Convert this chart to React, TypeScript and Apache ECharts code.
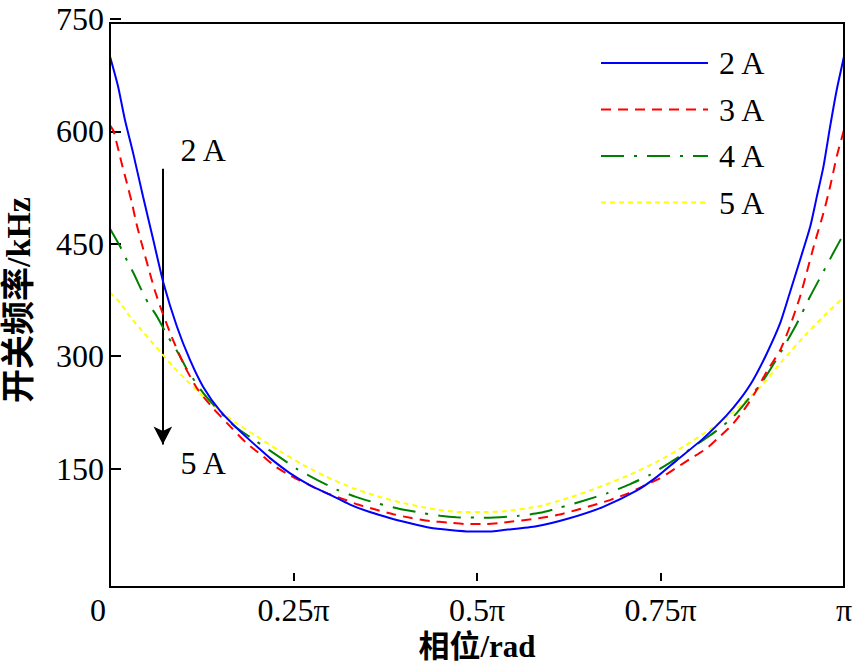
import React, { useEffect, useRef } from "react";
import * as echarts from "echarts";

// x: phase as a fraction of π; y: switching frequency (kHz)
const xTickLabels = ["0", "0.25π", "0.5π", "0.75π", "π"];
const seriesNames = ["2 A", "3 A", "4 A", "5 A"];
const seriesColors = ["#0000ff", "#ff0000", "#008000", "#ffff00"];

const current2A: [number, number][] = [
  [0, 700], [0.011, 660], [0.02, 617], [0.032, 569], [0.045, 513], [0.059, 455], [0.073, 397],
  [0.091, 340], [0.109, 295], [0.127, 259], [0.15, 227], [0.177, 200], [0.204, 176], [0.218, 164],
  [0.245, 144], [0.272, 128], [0.3, 115], [0.327, 102], [0.354, 92], [0.381, 84], [0.409, 77],
  [0.436, 71], [0.463, 68], [0.49, 66], [0.518, 66], [0.536, 68], [0.581, 73], [0.627, 84],
  [0.672, 99], [0.718, 121], [0.745, 139], [0.772, 161], [0.808, 190], [0.84, 221], [0.858, 242],
  [0.876, 268], [0.895, 304], [0.913, 344], [0.926, 384], [0.94, 428], [0.954, 473], [0.963, 513],
  [0.972, 553], [0.981, 606], [0.99, 655], [1.0, 700],
];
const current3A: [number, number][] = [
  [0, 608], [0.005, 600], [0.016, 557], [0.023, 531], [0.03, 504], [0.036, 477], [0.043, 451],
  [0.052, 419], [0.061, 388], [0.07, 362], [0.084, 326], [0.102, 286], [0.12, 255], [0.141, 230],
  [0.166, 204], [0.186, 184], [0.209, 166], [0.225, 153], [0.245, 141], [0.272, 128], [0.291, 119],
  [0.316, 110], [0.338, 102], [0.363, 95], [0.386, 89], [0.411, 84], [0.436, 80], [0.461, 78],
  [0.486, 76], [0.511, 76], [0.536, 78], [0.586, 84], [0.609, 88], [0.633, 94], [0.658, 101],
  [0.681, 108], [0.706, 117], [0.727, 127], [0.749, 137], [0.77, 150], [0.792, 164], [0.813, 177],
  [0.831, 193], [0.849, 210], [0.867, 233], [0.881, 255], [0.895, 280], [0.913, 308], [0.926, 339],
  [0.94, 379], [0.949, 411], [0.96, 451], [0.972, 491], [0.981, 526], [0.99, 566], [1.0, 602],
];
const current4A: [number, number][] = [
  [0, 470], [0.014, 446], [0.023, 428], [0.032, 411], [0.043, 388], [0.052, 371], [0.064, 353],
  [0.079, 326], [0.093, 304], [0.104, 284], [0.123, 256], [0.141, 235], [0.168, 208], [0.2, 186],
  [0.227, 168], [0.254, 150], [0.282, 135], [0.309, 122], [0.336, 112], [0.363, 104], [0.395, 96],
  [0.418, 92], [0.45, 87], [0.472, 85], [0.513, 84.5], [0.556, 87], [0.586, 91], [0.613, 98],
  [0.645, 107], [0.677, 117], [0.708, 129], [0.736, 142], [0.763, 158], [0.786, 173], [0.808, 188],
  [0.827, 201], [0.85, 220], [0.87, 243], [0.89, 268], [0.913, 304], [0.936, 344], [0.954, 380],
  [0.972, 413], [0.985, 437], [1.0, 464],
];
const current5A: [number, number][] = [
  [0, 385], [0.014, 371], [0.027, 353], [0.041, 337], [0.055, 321], [0.07, 304], [0.086, 286],
  [0.104, 268], [0.123, 250], [0.145, 231], [0.17, 212], [0.2, 193], [0.232, 173], [0.263, 155],
  [0.295, 139], [0.331, 124], [0.368, 112], [0.404, 103], [0.44, 96], [0.477, 92], [0.513, 92],
  [0.536, 93], [0.581, 99], [0.622, 110], [0.663, 124], [0.704, 140], [0.745, 159], [0.781, 179],
  [0.817, 202], [0.845, 222], [0.886, 259], [0.917, 295], [0.949, 330], [0.976, 357], [1.0, 379],
];
const seriesData = [current2A, current3A, current4A, current5A];
const seriesDash: (number[] | "solid")[] = ["solid", [10, 7], [23, 10, 3, 10], [5, 4]];

// arrow annotation (data coordinates)
const arrowPhase = 0.072;
const arrowFrom = 550;
const arrowTo = 182;
const arrowTopLabel = { text: "2 A", x: 0.127, y: 575 };
const arrowBottomLabel = { text: "5 A", x: 0.127, y: 157 };

const FONT = '"Liberation Serif", "Times New Roman", "Noto Sans CJK SC", serif';

export default function App() {
  const ref = useRef<HTMLDivElement>(null);
  useEffect(() => {
    if (!ref.current) return;
    const chart = echarts.init(ref.current, undefined, { renderer: "svg" });
    const series: any[] = seriesData.map((d, i) => ({
      name: seriesNames[i],
      type: "line",
      data: d,
      symbol: "none",
      showSymbol: false,
      smooth: 0.2,
      lineStyle: { color: seriesColors[i], width: 2, type: seriesDash[i] },
      itemStyle: { color: seriesColors[i] },
      z: 10 - i,
    }));
    series[0].markLine = {
      silent: true,
      symbol: ["none", "arrow"],
      symbolSize: [14, 18],
      label: { show: false },
      lineStyle: { color: "#000", width: 2, type: "solid" },
      data: [[{ coord: [arrowPhase, arrowFrom] }, { coord: [arrowPhase, arrowTo] }]],
    };
    series[0].markPoint = {
      silent: true,
      symbol: "rect",
      symbolSize: 1,
      itemStyle: { color: "rgba(0,0,0,0)" },
      label: {
        show: true,
        position: "inside",
        formatter: "{b}",
        color: "#000",
        fontFamily: FONT,
        fontSize: 32,
      },
      data: [
        { name: arrowTopLabel.text, coord: [arrowTopLabel.x, arrowTopLabel.y] },
        { name: arrowBottomLabel.text, coord: [arrowBottomLabel.x, arrowBottomLabel.y] },
      ],
    };
    chart.setOption({
      animation: false,
      backgroundColor: "#fff",
      textStyle: { fontFamily: FONT },
      grid: { left: 110, right: 12, top: 19, bottom: 87, containLabel: false, outerBoundsMode: "none" },
      legend: {
        orient: "vertical",
        left: 600,
        top: 45,
        padding: 0,
        itemWidth: 107,
        itemHeight: 14,
        itemGap: 10.5,
        data: seriesNames,
        itemStyle: { opacity: 0, color: "rgba(0,0,0,0)", borderWidth: 0 },
        textStyle: { fontFamily: FONT, fontSize: 32, color: "#000", lineHeight: 36, padding: [0, 0, 0, 6] },
      },
      xAxis: {
        type: "value",
        min: 0,
        max: 1,
        interval: 0.25,
        offset: 6,
        axisLine: { show: false },
        axisTick: { show: true, inside: true, length: 8, lineStyle: { color: "#000", width: 2 } },
        splitLine: { show: false },
        axisLabel: {
          color: "#000",
          fontFamily: FONT,
          fontSize: 32,
          margin: 7,
          formatter: (v: number) => {
            const idx = Math.round(v / 0.25);
            return idx === 0 ? "{o|" + xTickLabels[0] + "}" : xTickLabels[idx];
          },
          rich: { o: { fontFamily: FONT, fontSize: 32, color: "#000", padding: [0, 24, 0, 0] } },
        },
        name: "相位/rad",
        nameLocation: "middle",
        nameGap: 32,
        nameTextStyle: { color: "#000", fontFamily: FONT, fontSize: 31, fontWeight: "bold" },
      },
      yAxis: {
        type: "value",
        min: 0,
        max: 750,
        interval: 150,
        axisLine: { show: false },
        axisTick: { show: true, inside: true, length: 11, lineStyle: { color: "#000", width: 2 } },
        splitLine: { show: false },
        axisLabel: {
          color: "#000",
          fontFamily: FONT,
          fontSize: 32,
          margin: 6,
          showMinLabel: false,
          formatter: (v: number) => (v === 0 ? "" : String(v)),
        },
        name: "开关频率/kHz",
        nameLocation: "middle",
        nameGap: 75,
        nameRotate: 90,
        nameTextStyle: { color: "#000", fontFamily: FONT, fontSize: 34, fontWeight: "bold" },
      },
      graphic: [
        {
          type: "rect",
          silent: true,
          z: 100,
          shape: { x: 110, y: 23, width: 734, height: 564 },
          style: { fill: "none", stroke: "#000", lineWidth: 2 },
        },
      ],
      series,
    });
    return () => chart.dispose();
  }, []);
  return <div ref={ref} style={{ position: "fixed", left: 0, top: 0, width: 856, height: 668, background: "#fff" }} />;
}
